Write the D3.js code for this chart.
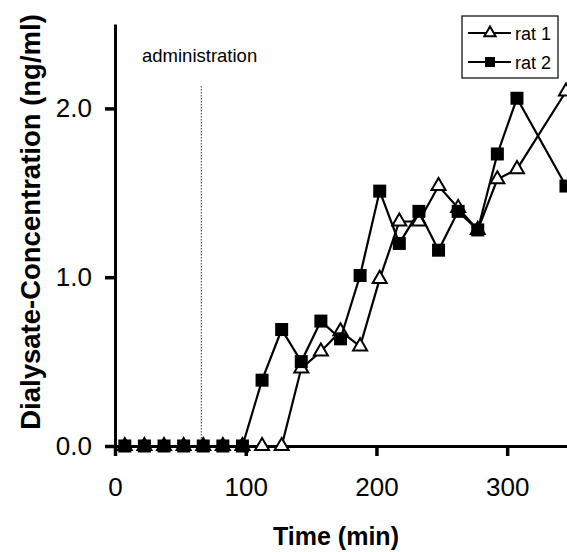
<!DOCTYPE html>
<html>
<head>
  <script src="https://d3js.org/d3.v7.min.js"></script>
  <style>
    body { margin: 0; background: #fff; }
    svg { font-family: "Liberation Sans", Arial, Helvetica, sans-serif; }
    .axis path, .axis line { stroke: #000; }
    .axis path { stroke-width: 3; }
    .axis line { stroke-width: 3.5; }
    .axis text { font-size: 26px; fill: #000; }
    .axis-label { font-size: 25px; font-weight: bold; }
    .series { fill: none; stroke: #000; stroke-width: 2.2; }
  </style>
</head>
<body>
  <div id="chart"></div>

  <script>
    // sampling times (min)
    var times = [7.5, 22.5, 37.5, 52.5, 67.5, 82.5, 97.5, 112.5, 127.5, 142.5, 157.5,
                 172.5, 187.5, 202.5, 217.5, 232.5, 247.5, 262.5, 277.5, 292.5, 307.5, 345];
    var rat1 = [0, 0, 0, 0, 0, 0, 0, 0, 0, 0.46, 0.56,
                0.68, 0.59, 0.99, 1.33, 1.33, 1.54, 1.41, 1.28, 1.58, 1.64, 2.10];
    var rat2 = [0, 0, 0, 0, 0, 0, 0, 0.39, 0.69, 0.50, 0.74,
                0.635, 1.01, 1.51, 1.20, 1.39, 1.16, 1.39, 1.28, 1.73, 2.06, 1.54];
    var xTicks = [0, 100, 200, 300];
    var yTicks = [0, 1, 2];
    var adminTime = 66;

    var width = 567, height = 552;

    var svg = d3.select("#chart")
      .append("svg")
      .attr("width", width)
      .attr("height", height);

    var x = d3.scaleLinear().domain([0, 347]).range([115, 568.6]);
    var y = d3.scaleLinear().domain([0, 2.5]).range([446, 24]);

    // axes
    svg.append("g")
      .attr("class", "axis")
      .attr("transform", "translate(0," + y(0) + ")")
      .call(d3.axisBottom(x).tickValues(xTicks).tickSize(10).tickSizeOuter(0)
        .tickPadding(22).tickFormat(d3.format("d")));

    svg.append("g")
      .attr("class", "axis")
      .attr("transform", "translate(" + x(0) + ",0)")
      .call(d3.axisLeft(y).tickValues(yTicks).tickSize(10).tickSizeOuter(0)
        .tickPadding(13).tickFormat(d3.format(".1f")));

    // administration marker
    svg.append("line")
      .attr("x1", x(adminTime)).attr("x2", x(adminTime))
      .attr("y1", 86).attr("y2", y(0))
      .attr("stroke", "#333")
      .attr("stroke-width", 1)
      .attr("stroke-dasharray", "1.5,1.5");

    svg.append("text")
      .attr("x", 142)
      .attr("y", 62)
      .style("font-size", "18.5px")
      .text("administration");

    var line = d3.line()
      .x(function(d) { return x(d.t); })
      .y(function(d) { return y(d.v); });

    function pts(vals) {
      return times.map(function(t, i) { return { t: t, v: vals[i] }; });
    }

    var tri = d3.symbol().type(d3.symbolTriangle).size(85);

    // rat 1
    svg.append("path").attr("class", "series").attr("d", line(pts(rat1)));
    svg.selectAll(".tri")
      .data(pts(rat1))
      .enter()
      .append("path")
      .attr("class", "tri")
      .attr("d", tri)
      .attr("transform", function(d) { return "translate(" + x(d.t) + "," + y(d.v) + ")"; })
      .attr("fill", "#fff")
      .attr("stroke", "#000")
      .attr("stroke-width", 2);

    // rat 2
    svg.append("path").attr("class", "series").attr("d", line(pts(rat2)));
    svg.selectAll(".sq")
      .data(pts(rat2))
      .enter()
      .append("rect")
      .attr("class", "sq")
      .attr("x", function(d) { return x(d.t) - 6.5; })
      .attr("y", function(d) { return y(d.v) - 6.5; })
      .attr("width", 13)
      .attr("height", 13)
      .attr("fill", "#000");

    // axis titles
    svg.append("text")
      .attr("class", "axis-label")
      .attr("x", 336)
      .attr("y", 545)
      .attr("text-anchor", "middle")
      .text("Time (min)");

    svg.append("text")
      .attr("class", "axis-label")
      .attr("transform", "translate(40,222) rotate(-90)")
      .attr("text-anchor", "middle")
      .style("font-size", "27.5px")
      .text("Dialysate-Concentration (ng/ml)");

    // legend
    var legend = svg.append("g").attr("transform", "translate(462,16)");
    legend.append("rect")
      .attr("width", 96).attr("height", 62)
      .attr("fill", "#fff").attr("stroke", "#000").attr("stroke-width", 1.2);
    var items = [{ name: "rat 1", type: "tri" }, { name: "rat 2", type: "sq" }];
    items.forEach(function(it, i) {
      var g = legend.append("g").attr("transform", "translate(0," + (17 + i * 29) + ")");
      g.append("line").attr("x1", 6).attr("x2", 49).attr("stroke", "#000").attr("stroke-width", 2);
      if (it.type === "tri") {
        g.append("path").attr("d", d3.symbol().type(d3.symbolTriangle).size(55))
          .attr("transform", "translate(28,0)")
          .attr("fill", "#fff").attr("stroke", "#000").attr("stroke-width", 2);
      } else {
        g.append("rect").attr("x", 23).attr("y", -5).attr("width", 10).attr("height", 10).attr("fill", "#000");
      }
      g.append("text").attr("x", 53).attr("y", 6.5).style("font-size", "18px").text(it.name);
    });
  </script>
</body>
</html>
